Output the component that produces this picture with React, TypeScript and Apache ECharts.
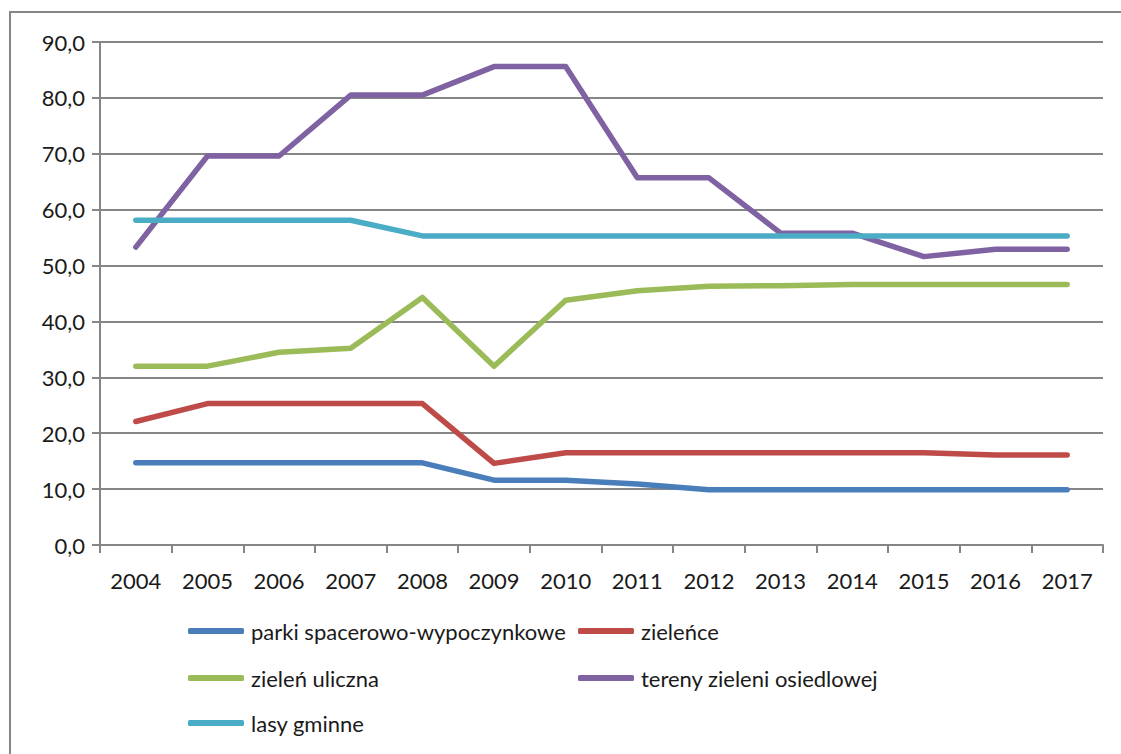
import React, { useEffect, useRef } from "react";
import * as echarts from "echarts";

const years = ["2004","2005","2006","2007","2008","2009","2010","2011","2012","2013","2014","2015","2016","2017"];
const parki = [14.7,14.7,14.7,14.7,14.7,11.6,11.6,10.9,9.9,9.9,9.9,9.9,9.9,9.9];
const zielence = [22.1,25.3,25.3,25.3,25.3,14.6,16.5,16.5,16.5,16.5,16.5,16.5,16.1,16.1];
const zielenUliczna = [32.0,32.0,34.5,35.2,44.3,32.0,43.8,45.5,46.3,46.4,46.6,46.6,46.6,46.6];
const tereny = [53.3,69.6,69.6,80.5,80.5,85.6,85.6,65.7,65.7,55.8,55.8,51.6,52.9,52.9];
const lasy = [58.1,58.1,58.1,58.1,55.3,55.3,55.3,55.3,55.3,55.3,55.3,55.3,55.3,55.3];

const seriesNames = ["parki spacerowo-wypoczynkowe","zieleńce","zieleń uliczna","tereny zieleni osiedlowej","lasy gminne"];
const seriesData = [parki, zielence, zielenUliczna, tereny, lasy];
const colors = ["#4A7EBB","#BE4B48","#9BBB59","#7F62A1","#4BACC6"];
const legendPos = [
  { left: 188, top: 620 },
  { left: 578, top: 620 },
  { left: 188, top: 667 },
  { left: 578, top: 667 },
  { left: 188, top: 712 },
];

const FONT = "Lato";

export default function App() {
  const ref = useRef<HTMLDivElement>(null);
  useEffect(() => {
    if (!ref.current) return;
    const chart = echarts.init(ref.current, null, { renderer: "svg" });
    chart.setOption({
      animation: false,
      backgroundColor: "#ffffff",
      textStyle: { fontFamily: FONT },
      graphic: [
        {
          type: "rect",
          z: -10,
          shape: { x: 10, y: 12, width: 1140, height: 780 },
          style: { fill: "none", stroke: "#868686", lineWidth: 2 },
        },
      ],
      grid: { left: 100, right: 18, top: 42, bottom: 209, containLabel: false },
      xAxis: {
        type: "category",
        data: years,
        boundaryGap: true,
        axisLine: { show: true, lineStyle: { color: "#868686", width: 2 } },
        axisTick: { show: true, alignWithLabel: false, length: 8, lineStyle: { color: "#868686", width: 2 } },
        axisLabel: { color: "#1a1a1a", fontSize: 22, fontFamily: FONT, margin: 24 },
        splitLine: { show: false },
      },
      yAxis: {
        type: "value",
        min: 0,
        max: 90,
        interval: 10,
        axisLine: { show: true, lineStyle: { color: "#868686", width: 2 } },
        axisTick: { show: true, length: 8, lineStyle: { color: "#868686", width: 2 } },
        axisLabel: {
          color: "#1a1a1a",
          fontSize: 22,
          fontFamily: FONT,
          margin: 15,
          formatter: (v: number) => v.toFixed(1).replace(".", ","),
        },
        splitLine: { show: true, lineStyle: { color: "#868686", width: 2 } },
      },
      legend: seriesNames.map((n, i) => ({
        data: [n],
        left: legendPos[i].left,
        top: legendPos[i].top,
        orient: "horizontal",
        icon: "roundRect",
        itemWidth: 56,
        itemHeight: 6,
        itemGap: 0,
        padding: 0,
        textStyle: { color: "#1a1a1a", fontSize: 22, fontFamily: FONT, padding: [0, 0, 0, 2] },
      })),
      series: seriesNames.map((n, i) => ({
        name: n,
        type: "line",
        data: seriesData[i],
        symbol: "none",
        color: colors[i],
        lineStyle: { width: 5.5, color: colors[i], cap: "round", join: "round" },
        itemStyle: { color: colors[i] },
      })),
    });
    return () => chart.dispose();
  }, []);
  return (
    <div
      ref={ref}
      style={{ position: "fixed", left: 0, top: 0, width: 1121, height: 754, background: "#fff" }}
    />
  );
}
